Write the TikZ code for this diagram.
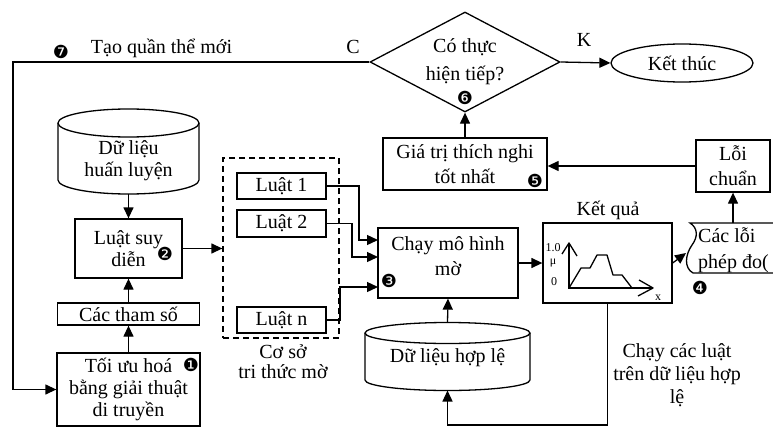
\documentclass[tikz,border=0pt]{standalone}
\usepackage{fontspec}
\setmainfont{Liberation Serif}
\newfontfamily\dingfont{DejaVu Sans}
\usetikzlibrary{arrows.meta,shapes.geometric}
\begin{document}
\begin{tikzpicture}[x=1pt,y=-1pt,
  every node/.style={font=\fontsize{20}{22}\selectfont, inner sep=0pt},
  line/.style={line width=1.3pt},
  arr/.style={line width=1.3pt,-{Triangle[length=11pt,width=10pt]}},
  box/.style={draw,line width=1.3pt,align=center},
  bul/.style={font=\dingfont\fontsize{18}{18}\selectfont},
  small/.style={font=\fontsize{12}{12}\selectfont}]
\useasboundingbox (0,0) rectangle (773,428);

% ---- decision and end ----
\node[box, diamond, aspect=1.9, minimum width=190pt, minimum height=100pt] (dec) at (465,62) {Có thực\\[6pt]hiện tiếp?};
\node[box, ellipse, minimum width=142pt, minimum height=38pt] (end) at (682,63) {Kết thúc};
\node (lblC) at (353,47) {C};
\node (lblK) at (584,40) {K};
\node (newpop) at (161.5,48) {Tạo quần thể mới};
\node[bul] (b7) at (61,52) {❼};
\node[bul] (b6) at (465,98) {❻};

% ---- fitness and errors ----
\node[box, minimum width=164pt, minimum height=52pt] (fit) at (465,164) {Giá trị thích nghi\\[3pt]tốt nhất};
\node[bul] (b5) at (535,181) {❺};
\node[box, minimum width=74pt, minimum height=52pt] (loi) at (733,166) {Lỗi\\[3pt]chuẩn};

\draw[arr] (fit.north) -- (dec.south);
\draw[arr] (dec.east) -- (end.west);
\draw[arr] (loi.west) -- (loi.west -| fit.east);

% ---- training data cylinder ----
\draw[line] (58,123) -- (58,180) arc[start angle=180,end angle=360,x radius=70.5pt,y radius=14pt] -- (199,123);
\draw[line] (128.5,123) ellipse[x radius=70.5pt,y radius=14pt];
\node[align=center] (train) at (128.5,161) {Dữ liệu\\huấn luyện};
\coordinate (trainB) at (128.5,194);

% ---- left column ----
\node[box, minimum width=107pt, minimum height=59pt] (rules) at (128.5,248.5) {Luật suy\\diễn};
\node[bul] (b2) at (165,254) {❷};
\node[box, minimum width=142pt, minimum height=22pt] (params) at (128.5,314) {Các tham số};
\node[box, minimum width=143pt, minimum height=73pt] (opt) at (128.5,389.5) {Tối ưu hoá\\bằng giải thuật\\di truyền};
\node[bul] (b1) at (191,365) {❶};

\draw[arr] (trainB) -- (rules.north);
\draw[arr] (params.north) -- (rules.south);
\draw[arr] (opt.north) -- (params.south);
\coordinate (loopcorner) at (13,62);
\draw[arr] (dec.west) -- (loopcorner) |- (opt.west);

% ---- fuzzy knowledge base ----
\node[draw, line width=1.3pt, dash pattern=on 6pt off 4pt, minimum width=116pt, minimum height=180pt] (kb) at (281,248) {};
\node[box, minimum width=89pt, minimum height=26pt] (r1) at (281.5,186) {Luật 1};
\node[box, minimum width=89pt, minimum height=27pt] (r2) at (281.5,223.5) {Luật 2};
\node[box, minimum width=89pt, minimum height=26pt] (rn) at (281.5,320) {Luật n};
\node[align=center, font=\fontsize{20}{20}\selectfont] (kbl) at (283,362) {Cơ sở\\tri thức mờ};
\draw[arr] (rules.east) -- (rules.east -| kb.west);

% ---- fuzzy model run ----
\node[box, minimum width=140pt, minimum height=70pt] (run) at (448,263) {};
\node[align=center] (runtxt) at (448,256) {Chạy mô hình\\[3pt]mờ};
\node[bul] (b3) at (389,281) {❸};
\coordinate (in1) at (378,240);
\coordinate (in2) at (378,257);
\coordinate (in3) at (378,287);
\draw[arr] (r1.east) -- (359,186) |- (in1);
\draw[arr] (r2.east) -- (352,223.5) |- (in2);
\draw[arr] (rn.east) -- (340,320) |- (in3);

% ---- result with membership plot ----
\node[box, minimum width=129pt, minimum height=80pt] (res) at (607.5,263) {};
\node (restitle) at (608,210) {Kết quả};
\draw[arr] (run.east) -- (res.west);
\draw[line, line join=round] (562,254) -- (569,243) -- (577,256);
\draw[line] (569,243) -- (569,288) -- (653,288);
\draw[line, line join=round] (639,280) -- (653,288) -- (638,296);
\draw[line, line join=round] (569,288) -- (581,268) -- (590,268) -- (597,255) -- (607,255) -- (613,275) -- (622,275) -- (632,288);
\node[small] (yt1) at (553,248) {1.0};
\node[small] (yt2) at (553,263) {μ};
\node[small] (yt3) at (554,282) {0};
\node[small] (xl) at (658,298) {x};

% ---- validation data cylinder ----
\draw[line] (365,333) -- (365,380) arc[start angle=180,end angle=360,x radius=82.5pt,y radius=10.5pt] -- (530,333);
\draw[line] (447.5,333) ellipse[x radius=82.5pt,y radius=10.5pt];
\node (valtxt) at (447.5,358) {Dữ liệu hợp lệ};
\coordinate (valT) at (447.5,322.5);
\coordinate (valB) at (447.5,390.5);
\draw[arr] (valT) -- (run.south);
\coordinate (loopB) at (607.5,425);
\coordinate (loopC) at (447.5,425);
\draw[arr] (res.south) -- (loopB) -- (loopC) -- (valB);
\node[align=center, font=\fontsize{20}{23}\selectfont] (runval) at (677,375) {Chạy các luật\\trên dữ liệu hợp\\lệ};

% ---- measurement errors (stored data) ----
\draw[line] (780,223) -- (690,223) .. controls (698,228) and (698,237) .. (692,245) .. controls (685,255) and (684,268) .. (693,273) -- (780,273);
\node[anchor=west, align=left] (errs) at (698,250) {Các lỗi\\[4pt]phép đo(};
\node[bul] (b4) at (700,288) {❹};
\coordinate (errL) at (686,253);
\coordinate (errT) at (733,223);
\draw[arr] (res.east) -- (errL);
\draw[arr] (errT) -- (loi.south);
\end{tikzpicture}
\end{document}
